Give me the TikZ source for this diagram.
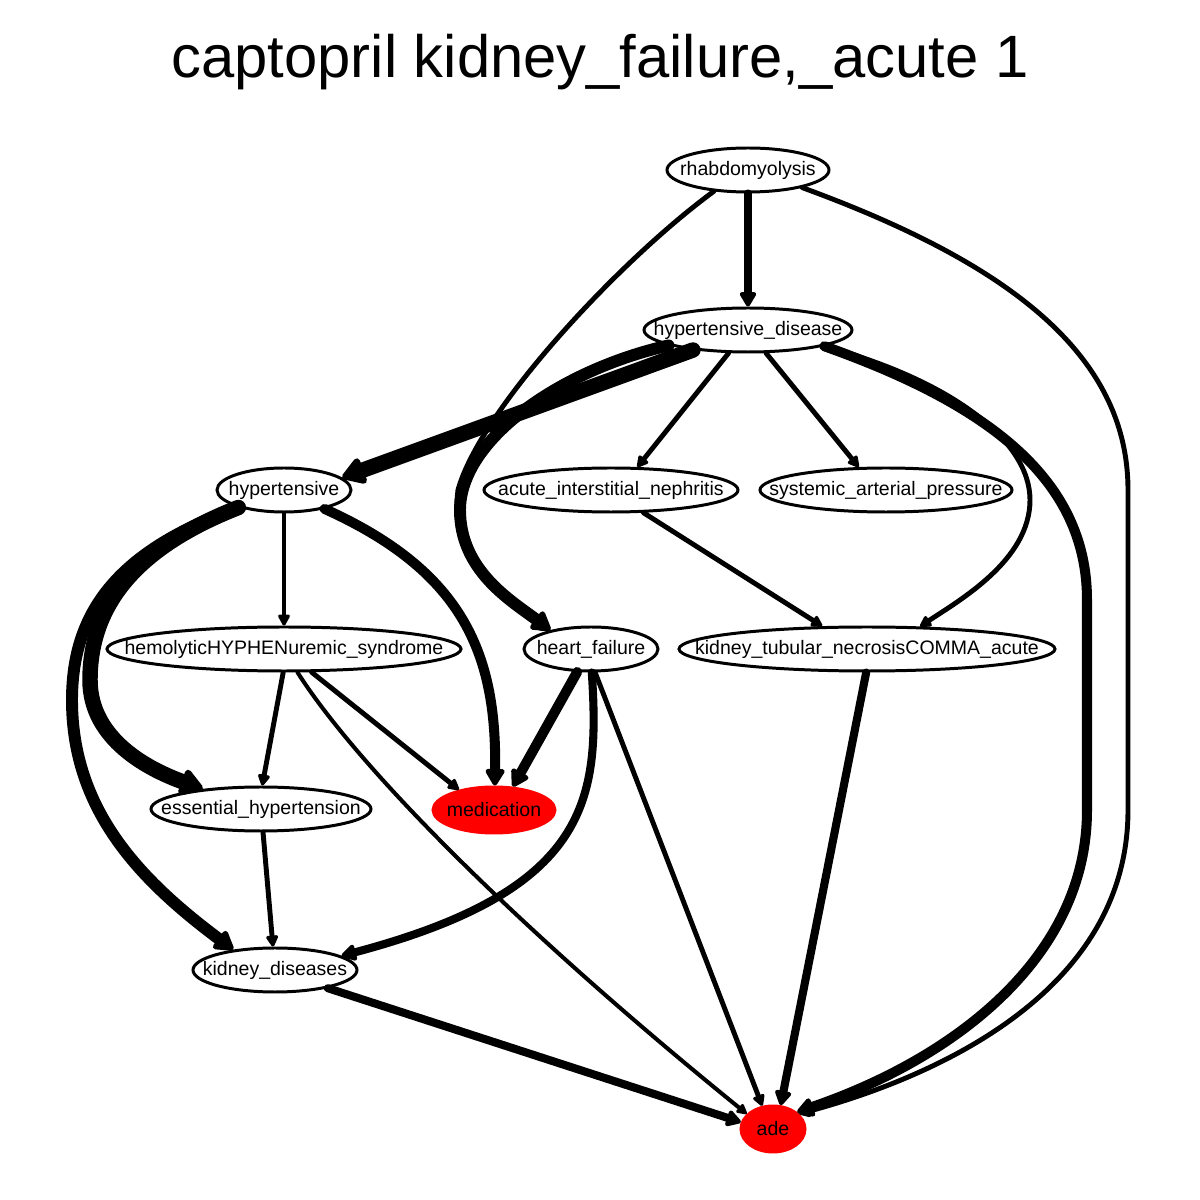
\documentclass[tikz,border=0pt]{standalone}
\usepackage{fontspec}
\setmainfont{Liberation Sans}
\usetikzlibrary{arrows.meta,shapes.geometric}

\begin{document}
\begin{tikzpicture}[>={Triangle[round,length=2pt 1.2,width=1.5pt 1.6]},
  ellip/.style={ellipse,draw,line width=0.85pt,inner xsep=-0.6cm,inner ysep=0pt,minimum height=0.44cm,font=\fontsize{5.55}{6.5}\selectfont},
  redellip/.style={ellip,draw=red,fill=red,minimum height=0.46cm},
  link/.style={->,line cap=round,line join=round},
  w1/.style={link,line width=1.15pt},
  w2/.style={link,line width=1.4pt},
  w3/.style={link,line width=2.3pt},
  w4/.style={link,line width=2.85pt},
  w5/.style={link,line width=3.4pt},
  w6/.style={link,line width=4.4pt}]
  \useasboundingbox (0,0) rectangle (12,12);
  \node (title) at (6.0,11.38) {\fontsize{17}{20}\selectfont captopril kidney\_failure,\_acute 1};

  \node[ellip,minimum width=1.62cm] (rh) at (7.48,10.30) {rhabdomyolysis};
  \node[ellip,minimum width=2.08cm] (hd) at (7.48,8.70) {hypertensive\_disease};
  \node[ellip,minimum width=1.34cm] (ht) at (2.84,7.10) {hypertensive};
  \node[ellip,minimum width=2.54cm] (ain) at (6.11,7.10) {acute\_interstitial\_nephritis};
  \node[ellip,minimum width=2.52cm] (sap) at (8.86,7.10) {systemic\_arterial\_pressure};
  \node[ellip,minimum width=3.54cm] (hus) at (2.84,5.51) {hemolyticHYPHENuremic\_syndrome};
  \node[ellip,minimum width=1.34cm] (hf) at (5.91,5.51) {heart\_failure};
  \node[ellip,minimum width=3.76cm] (ktn) at (8.67,5.51) {kidney\_tubular\_necrosisCOMMA\_acute};
  \node[ellip,minimum width=2.20cm] (eh) at (2.61,3.91) {essential\_hypertension};
  \node[redellip,minimum width=1.22cm] (med) at (4.94,3.90) {medication};
  \node[ellip,minimum width=1.64cm] (kd) at (2.75,2.30) {kidney\_diseases};
  \node[redellip,minimum width=0.64cm] (ade) at (7.73,0.71) {ade};

  \draw[w3] (rh) -- (hd);
  \draw[w2] (rh.212) .. controls (6.2,9.4) and (4.8,7.9) .. (4.58,7.1) .. controls (4.5,6.5) and (4.9,6.05) .. (hf.155);
  \draw[w2] (rh.-18) .. controls (10.0,9.4) and (11.28,8.5) .. (11.28,7.1) -- (11.28,3.9) .. controls (11.28,2.2) and (9.6,1.3) .. (ade.30);
  \draw[w6] (hd.200) -- (ht.12);
  \draw[w5] (hd.191) .. controls (5.6,8.3) and (4.6,7.6) .. (4.6,6.9) .. controls (4.6,6.3) and (5.1,6.0) .. (hf.155);
  \draw[w2] (hd.230) -- (ain.41);
  \draw[w2] (hd.-52) -- (sap.140);
  \draw[w2] (hd.-12) .. controls (9.5,8.2) and (10.3,7.6) .. (10.3,7.0) .. controls (10.3,6.4) and (9.6,6.0) .. (ktn.23);
  \draw[w4] (hd.-12) .. controls (9.9,7.95) and (10.87,7.2) .. (10.87,6.0) -- (10.87,3.9) .. controls (10.87,2.4) and (9.5,1.4) .. (ade.35);
  \draw[w2] (ht) -- (hus);
  \draw[w6] (ht.201) .. controls (1.3,6.5) and (0.9,5.9) .. (0.9,5.2) .. controls (0.9,4.6) and (1.5,4.3) .. (eh.161);
  \draw[w5] (ht.201) .. controls (1.2,6.5) and (0.72,5.9) .. (0.72,5.0) .. controls (0.72,3.9) and (1.4,3.2) .. (kd.154);
  \draw[w4] (ht.-25) .. controls (4.6,6.3) and (4.97,5.5) .. (med.88);
  \draw[w2] (hus.268) -- (eh.87);
  \draw[w2] (hus.-40) -- (med.150);
  \draw[w1] (hus.-60) .. controls (3.6,4.3) and (5.2,2.7) .. (ade.150);
  \draw[w2] (ain.-35) -- (ktn.153);
  \draw[w4] (hf.239) -- (med.51);
  \draw[w3] (hf.-88) .. controls (6.0,4.0) and (5.9,3.1) .. (kd.12);
  \draw[w2] (hf.-80) -- (ade.115);
  \draw[w3] (ktn.268) -- (ade.72);
  \draw[w2] (eh) -- (kd);
  \draw[w3] (kd.-19) -- (ade.168);
\end{tikzpicture}
\end{document}
